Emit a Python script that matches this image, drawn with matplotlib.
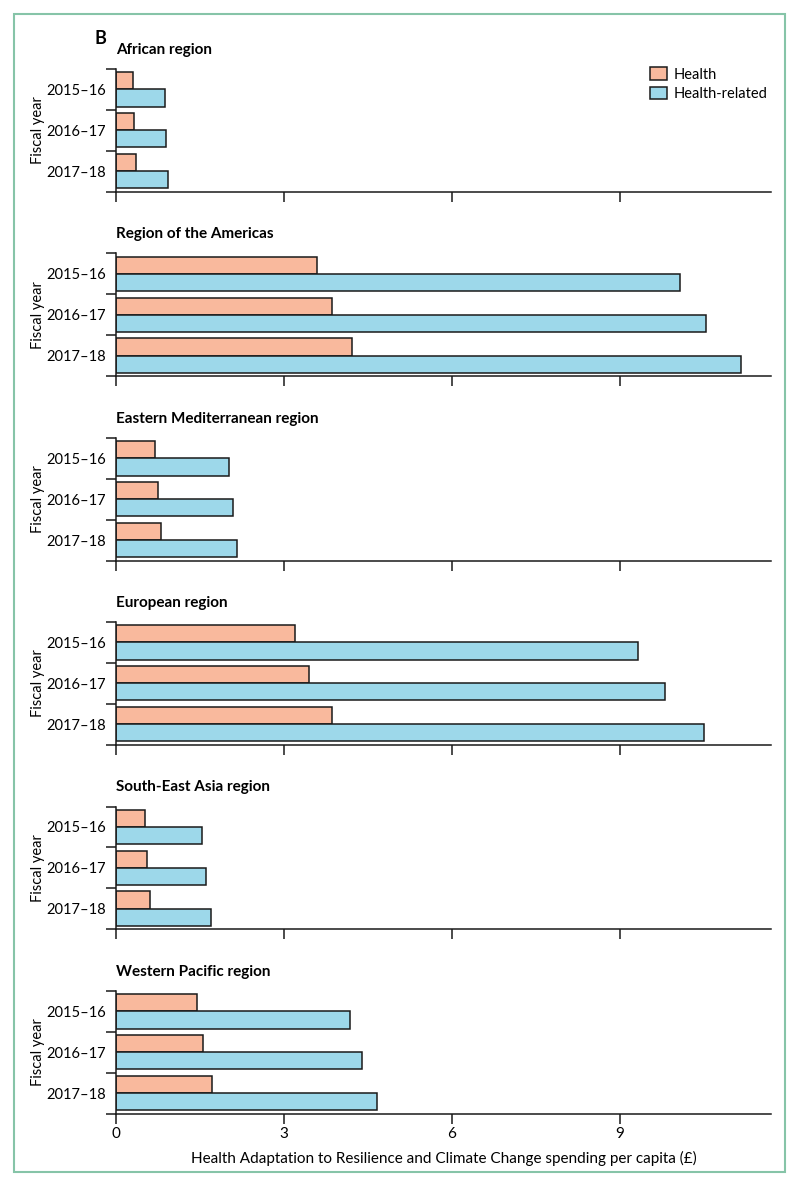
import matplotlib
matplotlib.use("Agg")
import matplotlib.pyplot as plt
from matplotlib.patches import Rectangle, Patch
import numpy as np

plt.rcParams['font.family'] = ['Lato', 'DejaVu Sans']

regions = ["African region", "Region of the Americas", "Eastern Mediterranean region",
           "European region", "South-East Asia region", "Western Pacific region"]
years = ["2015–16", "2016–17", "2017–18"]
health = [
    [0.30, 0.32, 0.36],
    [3.59, 3.85, 4.22],
    [0.70, 0.75, 0.80],
    [3.19, 3.45, 3.85],
    [0.52, 0.55, 0.61],
    [1.44, 1.55, 1.71],
]
health_related = [
    [0.87, 0.89, 0.93],
    [10.08, 10.53, 11.17],
    [2.01, 2.09, 2.17],
    [9.32, 9.80, 10.50],
    [1.53, 1.60, 1.69],
    [4.18, 4.39, 4.66],
]
xticks = [0, 3, 6, 9]
xlabel = "Health Adaptation to Resilience and Climate Change spending per capita (£)"

c_health = "#F9B99D"
c_hr = "#9DD8EA"
edge = "#1a1a1a"

W, H = 800, 1186
fig = plt.figure(figsize=(W / 100, H / 100), dpi=100)

# border
fig.patches.append(Rectangle((14 / W, 1 - 1172 / H), (785 - 14) / W, (1172 - 14) / H,
                             transform=fig.transFigure, fill=False,
                             edgecolor="#86C4A8", linewidth=1.5))

tops = [69, 253.5, 438, 622, 806.5, 991]
ax_h = 122.5
left, right = 116, 771
bh = 0.42
y = np.arange(len(years))

for i, reg in enumerate(regions):
    top = tops[i]
    ax = fig.add_axes([left / W, 1 - (top + ax_h) / H, (right - left) / W, ax_h / H])
    ax.barh(y - 0.21 + 0.0, health[i], height=bh, color=c_health, edgecolor=edge,
            linewidth=1.1, label="Health")
    ax.barh(y + 0.21 + 0.0, health_related[i], height=bh, color=c_hr, edgecolor=edge,
            linewidth=1.1, label="Health-related")
    ax.set_ylim(2.5 + 0.0, -0.5)
    ax.set_xlim(0, 11.7)
    ax.spines['top'].set_visible(False)
    ax.spines['right'].set_visible(False)
    for s in ['left', 'bottom']:
        ax.spines[s].set_linewidth(1.1)
        ax.spines[s].set_color(edge)
    ax.set_yticks(y)
    ax.set_yticklabels(years, fontsize=10.5)
    ax.tick_params(axis='y', length=0, pad=7)
    ax.set_yticks([-0.5, 0.5, 1.5, 2.5], minor=True)
    ax.tick_params(axis='y', which='minor', length=7, width=1.1, color=edge)
    ax.set_xticks(xticks)
    ax.tick_params(axis='x', length=7, width=1.1, color=edge, labelsize=11, pad=3)
    if i < len(regions) - 1:
        ax.set_xticklabels([])
    else:
        ax.set_xlabel(xlabel, fontsize=11, labelpad=7)
    ax.set_ylabel("Fiscal year", fontsize=10.5)
    ax.yaxis.set_label_coords(-0.108, 0.5)
    ax.text(0, 1.1, reg, transform=ax.transAxes, fontsize=11, fontweight='bold',
            va='bottom', ha='left')
    if i == 0:
        ax.legend(handles=[Patch(facecolor=c_health, edgecolor=edge, linewidth=1.1, label="Health"),
                           Patch(facecolor=c_hr, edgecolor=edge, linewidth=1.1, label="Health-related")],
                  loc='upper right', bbox_to_anchor=(1.003, 1.06), frameon=False, fontsize=10.5,
                  handlelength=1.2, handleheight=0.9, handletextpad=0.4, labelspacing=0.35,
                  borderaxespad=0)

fig.text(94 / W, 1 - 38 / H, "B", fontsize=13, fontweight='bold',
         va='center', ha='left')

fig.savefig("out.png", dpi=100)
